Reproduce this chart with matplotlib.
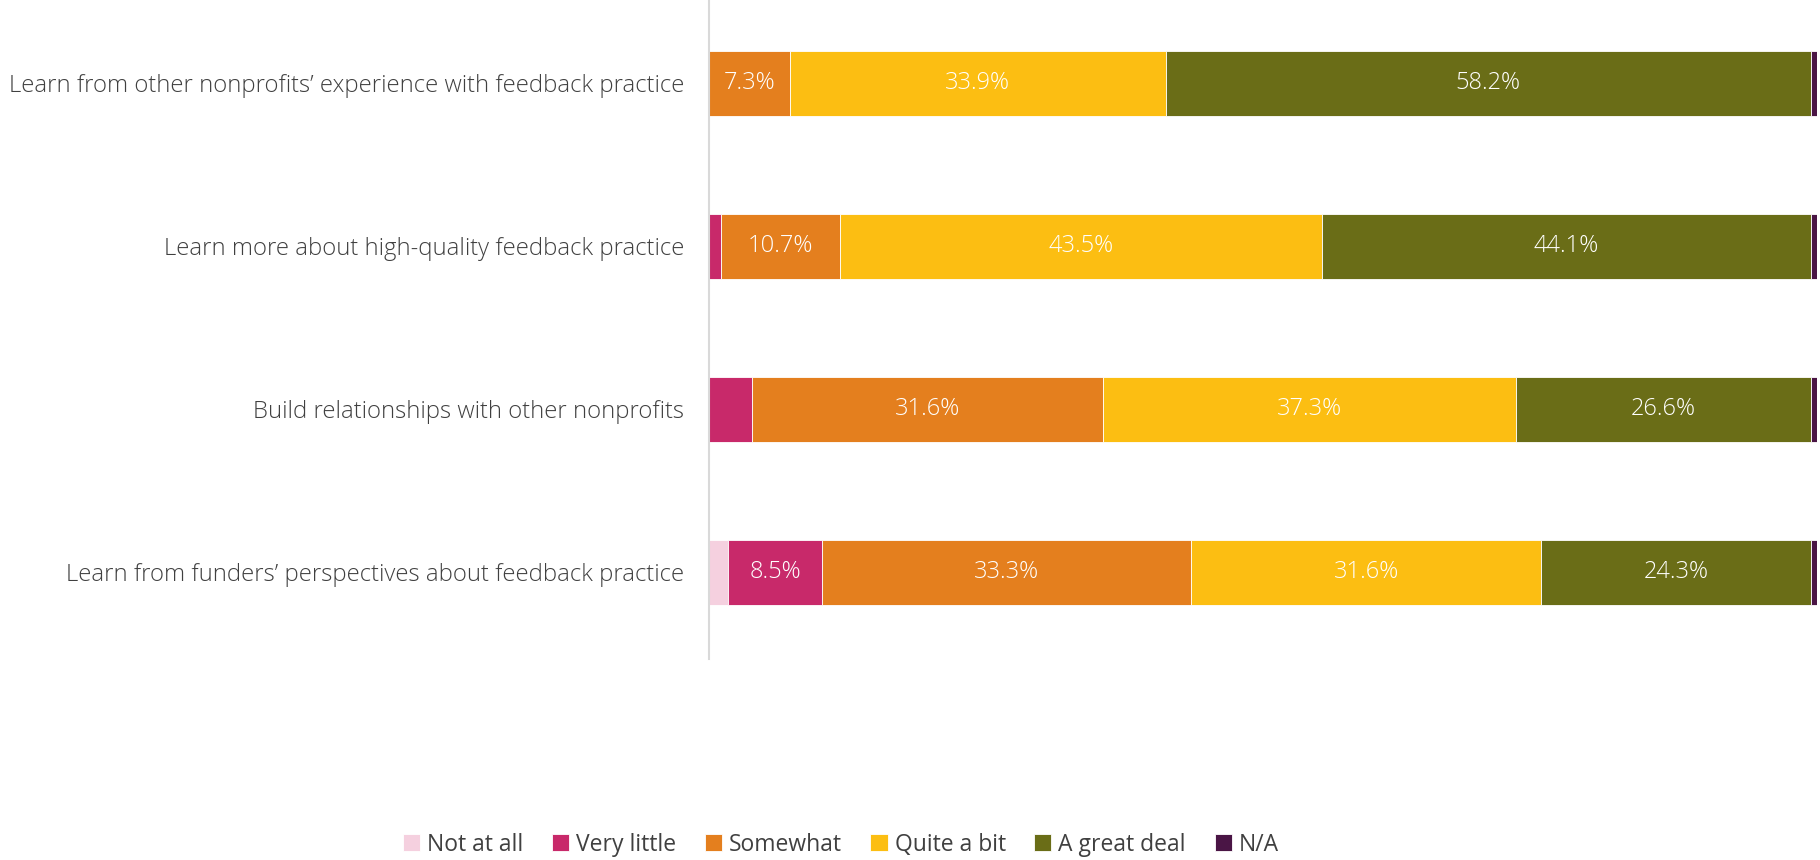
import matplotlib
matplotlib.use("Agg")
import matplotlib.pyplot as plt
import numpy as np

categories = [
    "Learn from other nonprofits\u2019 experience with feedback practice",
    "Learn more about high-quality feedback practice",
    "Build relationships with other nonprofits",
    "Learn from funders\u2019 perspectives about feedback practice",
]
series_names = ["Not at all", "Very little", "Somewhat", "Quite a bit", "A great deal", "N/A"]
not_at_all   = [0.0, 0.0, 0.0, 1.7]
very_little  = [0.0, 1.1, 3.9, 8.5]
somewhat     = [7.3, 10.7, 31.6, 33.3]
quite_a_bit  = [33.9, 43.5, 37.3, 31.6]
great_deal   = [58.2, 44.1, 26.6, 24.3]
na           = [0.6, 0.6, 0.6, 0.6]
colors = ["#F5D0DF", "#C8296A", "#E47F1E", "#FCBE12", "#6A6D17", "#4A1545"]

plt.rcParams['font.family'] = ['Open Sans', 'DejaVu Sans']

fig = plt.figure(figsize=(18.2, 8.6), dpi=100)
ax = fig.add_axes([0.3896, 0.234, 0.609, 0.766])

series = [not_at_all, very_little, somewhat, quite_a_bit, great_deal, na]
y = np.arange(len(categories))
left = np.zeros(len(categories))
for name, vals, col in zip(series_names, series, colors):
    vals = np.array(vals)
    ax.barh(y, vals, left=left, height=0.40, color=col, label=name,
            edgecolor="#ffffff", linewidth=0.6)
    for yi, v, l in zip(y, vals, left):
        if v >= 5:
            ax.text(l + v / 2, yi, f"{v:.1f}%", ha="center", va="center",
                    color="white", fontsize=17, fontweight="light")
    left += vals

ax.set_xlim(0, 100)
ax.set_ylim(3.53, -0.51)
ax.set_yticks(y)
ax.set_yticklabels(categories, fontsize=17.2, color="#404040", fontweight="light")
ax.tick_params(axis="y", length=0, pad=18)
ax.set_xticks([])
for s in ["top", "right", "bottom"]:
    ax.spines[s].set_visible(False)
ax.spines["left"].set_color("#D9D9D9")
ax.spines["left"].set_linewidth(1.5)

handles, labels = ax.get_legend_handles_labels()
leg = fig.legend(handles, labels, loc="center", bbox_to_anchor=(0.462, 0.018),
                 ncol=6, frameon=False, fontsize=16.5, handlelength=0.75,
                 handleheight=0.75, handletextpad=0.3, columnspacing=1.25)
for t in leg.get_texts():
    t.set_color("#404040")

fig.savefig("out.png", dpi=100)
